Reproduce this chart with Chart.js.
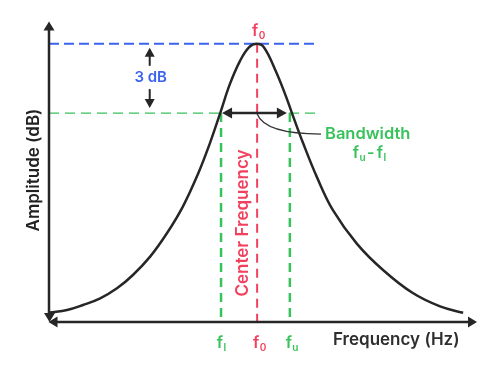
<!DOCTYPE html>
<html><head><meta charset="utf-8">
<script src="https://cdn.jsdelivr.net/npm/chart.js@4/dist/chart.umd.min.js"></script>
<style>html,body{margin:0;padding:0;background:#fff}canvas{display:block}</style>
</head><body>
<canvas id="c" width="500" height="380"></canvas>
<script>
// ---- data ----
const curveFreq = [0.02,0.43,0.81,1.22,1.62,2.00,2.41,2.81,3.19,3.55,3.84,4.08,4.31,4.55,4.77,4.95,5.12,5.39,5.62,5.79,6.05,6.39,6.77,7.34,7.96,8.67,9.32,9.87];
const curveAmp  = [0.34,0.43,0.61,0.85,1.21,1.69,2.35,3.19,4.15,5.32,6.45,7.51,8.55,9.38,9.88,10.0,9.88,9.07,8.22,7.51,6.45,5.19,4.01,2.81,1.87,1.04,0.56,0.33];
const peakLevel = 10.0;
const halfPowerLevel = 7.51;
const fCenter = 4.96, fLower = 4.10, fUpper = 5.74;
const refLineEnd = 6.36;
const xAxisEnd = 10.2, yAxisEnd = 10.8;
const dbArrowX = 2.4;
const tickLabels = [
  {value: fLower, base: 'f', sub: 'l', color: 'green'},
  {value: fCenter, base: 'f', sub: '0', color: 'red'},
  {value: fUpper, base: 'f', sub: 'u', color: 'green'}
];
const xTitle = 'Frequency (Hz)';
const yTitle = 'Amplitude (dB)';
const centerLabel = 'Center Frequency';
const bwLabel = 'Bandwidth';
const dbLabel = '3 dB';

const COL = {blue:'#3b63f0', green:'#38c25b', red:'#f2405e', dark:'#262626', text:'#2e2e2e'};
const FONT = 'Inter, "Open Sans", sans-serif';

const pts = (xs, ys) => xs.map((v,i)=>({x:v, y:ys[i]}));

function arrowHead(ctx, tx, ty, ang, len, hw){
  ctx.beginPath();
  ctx.moveTo(tx, ty);
  const bx = tx - Math.cos(ang)*len, by = ty - Math.sin(ang)*len;
  ctx.lineTo(bx + Math.cos(ang+Math.PI/2)*hw, by + Math.sin(ang+Math.PI/2)*hw);
  ctx.lineTo(bx - Math.cos(ang+Math.PI/2)*hw, by - Math.sin(ang+Math.PI/2)*hw);
  ctx.closePath();
  ctx.fill();
}
function seg(ctx,x1,y1,x2,y2){ctx.beginPath();ctx.moveTo(x1,y1);ctx.lineTo(x2,y2);ctx.stroke();}
function subText(ctx, x, y, base, sub, color, size){
  ctx.fillStyle = color;
  ctx.textBaseline = 'alphabetic';
  ctx.font = `600 ${size}px ${FONT}`;
  ctx.textAlign = 'right';
  ctx.fillText(base, x, y);
  ctx.font = `600 ${Math.round(size*0.62)}px ${FONT}`;
  ctx.textAlign = 'left';
  ctx.fillText(sub, x+0.5, y+3);
}

const overlay = {
  id: 'overlay',
  afterDatasetsDraw(chart){
    const {ctx, scales:{x, y}} = chart;
    const X = v => x.getPixelForValue(v), Y = v => y.getPixelForValue(v);
    const ox = X(0), oy = Y(0);
    ctx.save();
    // axes
    ctx.strokeStyle = COL.dark; ctx.fillStyle = COL.dark; ctx.lineWidth = 2.5;
    seg(ctx, ox, Y(yAxisEnd)+6, ox, oy-4);
    seg(ctx, ox+4, oy, X(xAxisEnd)-6, oy);
    arrowHead(ctx, ox, Y(yAxisEnd), -Math.PI/2, 9, 5.5);
    arrowHead(ctx, X(xAxisEnd), oy, 0, 9, 5.5);
    arrowHead(ctx, ox+0.5, oy, Math.PI/2, 9, 5.5);
    arrowHead(ctx, ox-0.5, oy, Math.PI, 9, 5.5);

    // 3 dB arrows
    const ax = X(dbArrowX);
    const pk = Y(peakLevel), hp = Y(halfPowerLevel);
    ctx.lineWidth = 2;
    seg(ctx, ax, pk+10, ax, pk+22);
    arrowHead(ctx, ax, pk+4, -Math.PI/2, 9, 5);
    seg(ctx, ax, hp-24, ax, hp-12);
    arrowHead(ctx, ax, hp-5, Math.PI/2, 9, 5);
    ctx.fillStyle = COL.blue;
    ctx.font = `600 15px ${FONT}`;
    ctx.textAlign = 'center'; ctx.textBaseline = 'middle';
    ctx.fillText(dbLabel, ax+1, (pk+hp)/2 - 1);

    // bandwidth double arrow
    const lx = X(fLower)+1, rx = X(fUpper)-3;
    ctx.strokeStyle = COL.dark; ctx.fillStyle = COL.dark; ctx.lineWidth = 2.5;
    seg(ctx, lx+7, hp, rx-7, hp);
    arrowHead(ctx, lx, hp, Math.PI, 10, 5.5);
    arrowHead(ctx, rx, hp, 0, 10, 5.5);

    // leader curve
    const cx = X(fCenter);
    ctx.lineWidth = 1.3; ctx.strokeStyle = '#333';
    ctx.beginPath();
    ctx.moveTo(cx, hp+1);
    ctx.quadraticCurveTo(cx+8, hp+21, 321, hp+21);
    ctx.stroke();

    ctx.fillStyle = COL.green;
    ctx.font = `600 16.5px ${FONT}`;
    ctx.textAlign = 'left'; ctx.textBaseline = 'middle';
    ctx.fillText(bwLabel, 325, hp+21);
    // fu - fl
    subText(ctx, 359, 158, 'f', 'u', COL.green, 16);
    ctx.font = `600 16px ${FONT}`; ctx.textAlign='left';
    ctx.fillText('-', 367, 158);
    subText(ctx, 383, 158, 'f', 'l', COL.green, 16);

    // top f0
    subText(ctx, cx+1, pk-8, 'f', '0', COL.red, 16);

    // tick labels
    tickLabels.forEach(t => subText(ctx, X(t.value)+2, oy+26, t.base, t.sub, COL[t.color], 16));

    // axis titles
    ctx.fillStyle = COL.text;
    ctx.font = `600 17px ${FONT}`;
    ctx.textAlign = 'left'; ctx.textBaseline = 'middle';
    ctx.fillText(xTitle, 333, oy+18);
    ctx.save();
    ctx.translate(34, 170); ctx.rotate(-Math.PI/2);
    ctx.textAlign = 'center'; ctx.fillStyle = '#222';
    ctx.fillText(yTitle, 0, 0);
    ctx.restore();

    // center frequency label
    ctx.save();
    ctx.translate(cx-14, 223); ctx.rotate(-Math.PI/2);
    ctx.textAlign = 'center'; ctx.fillStyle = COL.red;
    ctx.fillText(centerLabel, 0, 0);
    ctx.restore();

    ctx.restore();
  }
};

new Chart(document.getElementById('c'), {
  type: 'scatter',
  data: {
    datasets: [
      {data: pts(curveFreq, curveAmp), showLine: true, borderColor: COL.dark, borderWidth: 2.5, pointRadius: 0, tension: 0.4},
      {data: [{x: fCenter, y: peakLevel}, {x: fCenter, y: 0}], showLine: true, borderColor: COL.red, borderWidth: 2, borderDash: [9,6], pointRadius: 0},
      {data: [{x: 0, y: peakLevel}, {x: refLineEnd, y: peakLevel}], showLine: true, borderColor: COL.blue, borderWidth: 2, borderDash: [10,5], pointRadius: 0},
      {data: [{x: 0, y: halfPowerLevel}, {x: refLineEnd, y: halfPowerLevel}], showLine: true, borderColor: COL.green, borderWidth: 1.2, borderDash: [10,6], pointRadius: 0},
      {data: [{x: fLower, y: halfPowerLevel}, {x: fLower, y: 0}], showLine: true, borderColor: COL.green, borderWidth: 2.5, borderDash: [9,6], pointRadius: 0},
      {data: [{x: fUpper, y: halfPowerLevel}, {x: fUpper, y: 0}], showLine: true, borderColor: COL.green, borderWidth: 2.5, borderDash: [9,6], pointRadius: 0}
    ]
  },
  options: {
    responsive: false, animation: false, devicePixelRatio: 1,
    layout: {padding: {left: 49, right: 23, top: 16, bottom: 58}},
    scales: {
      x: {type: 'linear', min: 0, max: xAxisEnd, display: false},
      y: {type: 'linear', min: 0, max: 11, display: false}
    },
    plugins: {legend: {display: false}, tooltip: {enabled: false}}
  },
  plugins: [overlay]
});
</script>
</body></html>
